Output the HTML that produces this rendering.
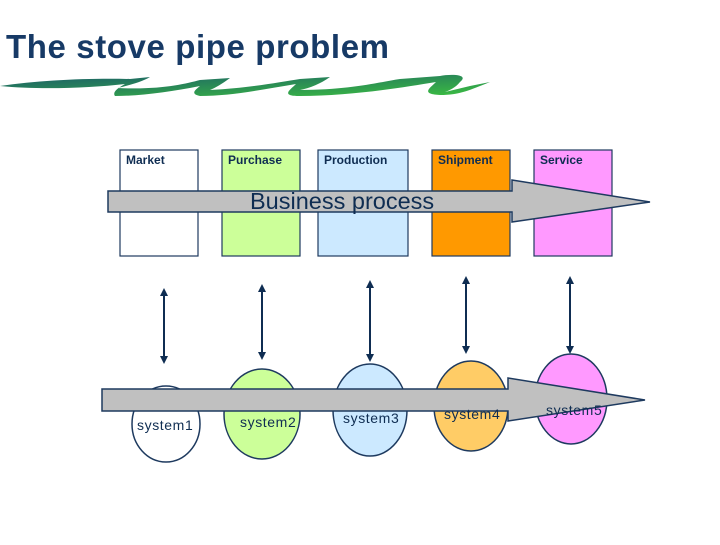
<!DOCTYPE html>
<html><head><meta charset="utf-8"><style>
body{margin:0;background:#fff;width:720px;height:540px;overflow:hidden}
</style></head><body>
<svg width="720" height="540" viewBox="0 0 720 540" xmlns="http://www.w3.org/2000/svg" font-family="Liberation Sans, sans-serif">
<defs>
<linearGradient id="g" x1="0" y1="0" x2="1" y2="1"><stop offset="0" stop-color="#1a5a6a"/><stop offset="1" stop-color="#3cc040"/></linearGradient>
<marker id="a" markerWidth="8" markerHeight="8" refX="4" refY="4" orient="auto-start-reverse" markerUnits="userSpaceOnUse"><path d="M0,0 L8,4 L0,8 z" fill="#0f2d52"/></marker>
</defs>
<text x="6" y="58" font-size="33" font-weight="bold" letter-spacing="0.6" fill="#173a66">The stove pipe problem</text>
<path d="M0,86 C40,80 90,78 130,79 L150,77 C140,83 125,86 118,88 C160,90 185,84 200,80 L230,78 C222,84 215,88 210,90 C250,88 280,82 300,79 L330,77 C320,84 310,88 300,90 C350,90 380,82 400,79 L440,76 C450,74 470,74 460,82 C455,88 450,90 445,92 L470,86 L490,82 C470,90 460,95 440,95 C420,94 430,88 436,82 C400,88 350,96 300,96 C280,96 290,90 296,84 C260,90 230,96 200,96 C190,94 195,90 200,86 C170,92 140,96 115,96 C112,92 118,88 125,84 C90,88 40,90 0,86z" fill="url(#g)"/>
<g stroke="#1e3a5f" stroke-width="1.2">
<rect x="120" y="150" width="78" height="106" fill="#fff"/>
<rect x="222" y="150" width="78" height="106" fill="#ccff99"/>
<rect x="318" y="150" width="90" height="106" fill="#cce9ff"/>
<rect x="432" y="150" width="78" height="106" fill="#ff9900"/>
<rect x="534" y="150" width="78" height="106" fill="#ff99ff"/>
</g>
<g font-size="12" font-weight="bold" fill="#0f2d52">
<text x="126" y="164">Market</text><text x="228" y="164">Purchase</text><text x="324" y="164">Production</text><text x="438" y="164">Shipment</text><text x="540" y="164">Service</text>
</g>
<path d="M108,191 L512,191 L512,180 L650,202 L512,222 L512,212 L108,212 z" fill="#c0c0c0" stroke="#1e3a5f" stroke-width="1.5"/>
<text x="250" y="209" font-size="23.5" fill="#0f2d52">Business process</text>
<g stroke="#0f2d52" stroke-width="2" marker-start="url(#a)" marker-end="url(#a)">
<line x1="164" y1="292" x2="164" y2="360"/>
<line x1="262" y1="288" x2="262" y2="356"/>
<line x1="370" y1="284" x2="370" y2="358"/>
<line x1="466" y1="280" x2="466" y2="350"/>
<line x1="570" y1="280" x2="570" y2="350"/>
</g>
<g stroke="#1e3a5f" stroke-width="1.5">
<ellipse cx="166" cy="424" rx="34" ry="38" fill="#fff"/>
<ellipse cx="262" cy="414" rx="38" ry="45" fill="#ccff99"/>
<ellipse cx="370" cy="410" rx="37" ry="46" fill="#cce9ff"/>
<ellipse cx="471" cy="406" rx="37" ry="45" fill="#ffcc66"/>
<ellipse cx="571" cy="399" rx="36" ry="45" fill="#ff99ff"/>
</g>
<path d="M102,389 L508,389 L508,378 L645,400 L508,421 L508,411 L102,411 z" fill="#c0c0c0" stroke="#1e3a5f" stroke-width="1.5"/>
<g font-size="14" letter-spacing="0.6" fill="#0f2d52">
<text x="137" y="430">system1</text><text x="240" y="427">system2</text><text x="343" y="423">system3</text><text x="444" y="419">system4</text><text x="546" y="415">system5</text>
</g>
</svg>
</body></html>
